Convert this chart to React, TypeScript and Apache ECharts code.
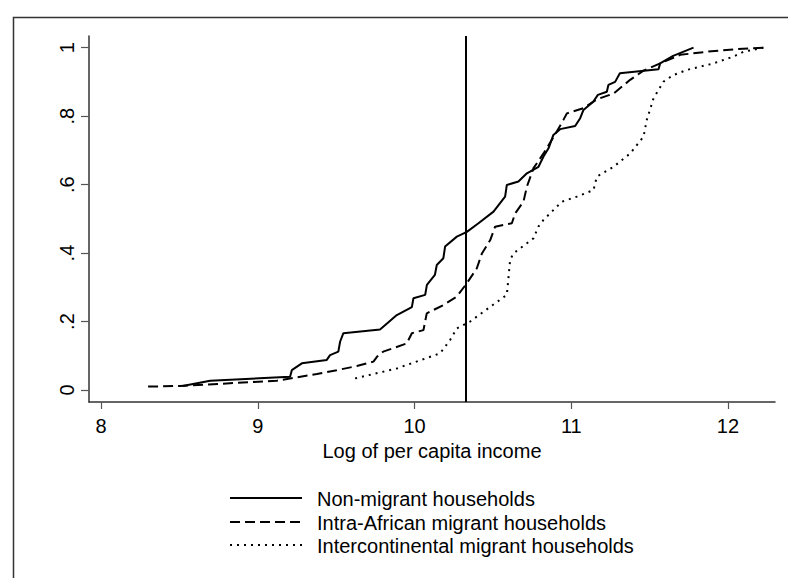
import React, { useEffect, useRef } from "react";
import * as echarts from "echarts";

const seriesNames = [
  "Non-migrant households",
  "Intra-African migrant households",
  "Intercontinental migrant households",
];

const nonMigrantX = [8.52, 8.696, 9.206, 9.217, 9.281, 9.44, 9.461, 9.514, 9.525, 9.546, 9.78, 9.887, 9.983, 9.993, 10.068, 10.079, 10.13, 10.142, 10.184, 10.195, 10.27, 10.334, 10.408, 10.504, 10.536, 10.578, 10.589, 10.663, 10.717, 10.791, 10.823, 10.855, 10.886, 10.929, 11.025, 11.057, 11.078, 11.14, 11.17, 11.227, 11.237, 11.28, 11.31, 11.557, 11.567, 11.65, 11.78];
const nonMigrantY = [0.012, 0.027, 0.039, 0.058, 0.078, 0.088, 0.102, 0.112, 0.141, 0.166, 0.177, 0.219, 0.242, 0.268, 0.278, 0.307, 0.336, 0.365, 0.385, 0.419, 0.448, 0.462, 0.487, 0.521, 0.54, 0.565, 0.599, 0.609, 0.633, 0.652, 0.682, 0.706, 0.745, 0.762, 0.771, 0.794, 0.818, 0.842, 0.862, 0.871, 0.891, 0.9, 0.925, 0.937, 0.954, 0.976, 1.0];

const intraAfricanX = [8.3, 8.504, 9.121, 9.377, 9.504, 9.632, 9.738, 9.76, 9.8, 9.95, 9.983, 10.057, 10.078, 10.184, 10.27, 10.334, 10.397, 10.43, 10.483, 10.514, 10.621, 10.642, 10.695, 10.717, 10.759, 10.823, 10.908, 10.95, 10.972, 11.078, 11.163, 11.27, 11.376, 11.461, 11.567, 11.695, 11.865, 12.035, 12.227];
const intraAfricanY = [0.01, 0.012, 0.027, 0.047, 0.058, 0.07, 0.083, 0.097, 0.112, 0.136, 0.166, 0.175, 0.224, 0.248, 0.273, 0.312, 0.355, 0.399, 0.438, 0.477, 0.487, 0.516, 0.55, 0.594, 0.648, 0.691, 0.755, 0.789, 0.808, 0.823, 0.849, 0.866, 0.906, 0.933, 0.954, 0.979, 0.988, 0.995, 1.0];

const interContX = [9.621, 9.887, 10.163, 10.227, 10.27, 10.355, 10.45, 10.589, 10.61, 10.631, 10.759, 10.79, 10.823, 10.94, 11.036, 11.142, 11.163, 11.27, 11.376, 11.461, 11.482, 11.525, 11.589, 11.653, 11.738, 11.908, 12.035, 12.099, 12.227];
const interContY = [0.034, 0.063, 0.107, 0.146, 0.18, 0.2, 0.232, 0.278, 0.38, 0.399, 0.443, 0.477, 0.497, 0.55, 0.565, 0.584, 0.623, 0.652, 0.691, 0.74, 0.789, 0.852, 0.901, 0.92, 0.935, 0.954, 0.974, 0.988, 1.0];

const xTicks = [8, 9, 10, 11, 12];
const yTicks = [0, 0.2, 0.4, 0.6, 0.8, 1];
const xTitle = "Log of per capita income";
const verticalLineX = 10.33;

const FONT = "'Liberation Sans', Arial, Helvetica, sans-serif";

const dashPatterns: (number[] | null)[] = [null, [10, 5], [2, 5]];

function zip(xs: number[], ys: number[]) {
  return xs.map((x, i) => [x, ys[i]]);
}

export default function App() {
  const ref = useRef<HTMLDivElement>(null);
  useEffect(() => {
    if (!ref.current) return;
    const chart = echarts.init(ref.current, null, { renderer: "svg" });
    const lineBase = { color: "#000", width: 2 };
    const legendRowsY = [498, 522, 545];
    const legendGraphics: any[] = [];
    seriesNames.forEach((name, i) => {
      legendGraphics.push({
        type: "line",
        shape: { x1: 230, y1: legendRowsY[i], x2: 302, y2: legendRowsY[i] },
        style: {
          stroke: "#000",
          lineWidth: 2,
          lineDash: dashPatterns[i] || undefined,
        },
        silent: true,
      });
      legendGraphics.push({
        type: "text",
        x: 317,
        y: legendRowsY[i] + 1,
        style: {
          text: name,
          fill: "#000",
          font: `20px ${FONT}`,
          textVerticalAlign: "middle",
          verticalAlign: "middle",
        },
        silent: true,
      });
    });
    chart.setOption({
      animation: false,
      backgroundColor: "#fff",
      textStyle: { fontFamily: FONT, color: "#000" },
      grid: { left: 89, top: 36, right: 13, bottom: 176, containLabel: false },
      xAxis: {
        type: "value",
        min: 7.923,
        max: 12.3,
        name: xTitle,
        nameLocation: "middle",
        nameGap: 38,
        nameTextStyle: { fontSize: 20, color: "#000", fontFamily: FONT },
        axisLine: { show: true, onZero: false, lineStyle: { color: "#333", width: 1.5 } },
        axisTick: { show: true, length: 7, customValues: xTicks, lineStyle: { color: "#555", width: 1.2 } },
        axisLabel: { customValues: xTicks, fontSize: 20, color: "#000", margin: 14, fontFamily: FONT },
        splitLine: { show: false },
      },
      yAxis: {
        type: "value",
        min: -0.035,
        max: 1.034,
        axisLine: { show: true, onZero: false, lineStyle: { color: "#333", width: 1.5 } },
        axisTick: { show: true, length: 8, customValues: yTicks, lineStyle: { color: "#555", width: 1.2 } },
        axisLabel: {
          customValues: yTicks,
          fontSize: 20,
          color: "#000",
          rotate: 90,
          margin: 12,
          fontFamily: FONT,
          formatter: (v: number) => (v === 0 ? "0" : v === 1 ? "1" : String(Number(v.toFixed(1))).replace(/^0/, "")),
        },
        splitLine: { show: false },
      },
      graphic: [
        {
          type: "rect",
          left: 11,
          top: 15,
          shape: { x: 0, y: 0, width: 900, height: 700 },
          style: { fill: "none", stroke: "#333", lineWidth: 1.5 },
          silent: true,
          z: -1,
        },
        ...legendGraphics,
      ],
      series: [
        {
          name: seriesNames[0],
          type: "line",
          data: zip(nonMigrantX, nonMigrantY),
          showSymbol: false,
          symbol: "none",
          lineStyle: { ...lineBase, type: "solid" },
          itemStyle: { color: "#000" },
          emphasis: { disabled: true },
          markLine: {
            silent: true,
            symbol: ["none", "none"],
            label: { show: false },
            lineStyle: { color: "#000", width: 2, type: "solid" },
            data: [{ xAxis: verticalLineX }],
          },
        },
        {
          name: seriesNames[1],
          type: "line",
          data: zip(intraAfricanX, intraAfricanY),
          showSymbol: false,
          symbol: "none",
          lineStyle: { ...lineBase, type: dashPatterns[1] },
          itemStyle: { color: "#000" },
          emphasis: { disabled: true },
        },
        {
          name: seriesNames[2],
          type: "line",
          data: zip(interContX, interContY),
          showSymbol: false,
          symbol: "none",
          lineStyle: { ...lineBase, type: dashPatterns[2] },
          itemStyle: { color: "#000" },
          emphasis: { disabled: true },
        },
      ],
    });
    return () => chart.dispose();
  }, []);
  return (
    <div
      ref={ref}
      style={{ position: "absolute", left: 0, top: 0, width: 788, height: 578, background: "#fff" }}
    />
  );
}
